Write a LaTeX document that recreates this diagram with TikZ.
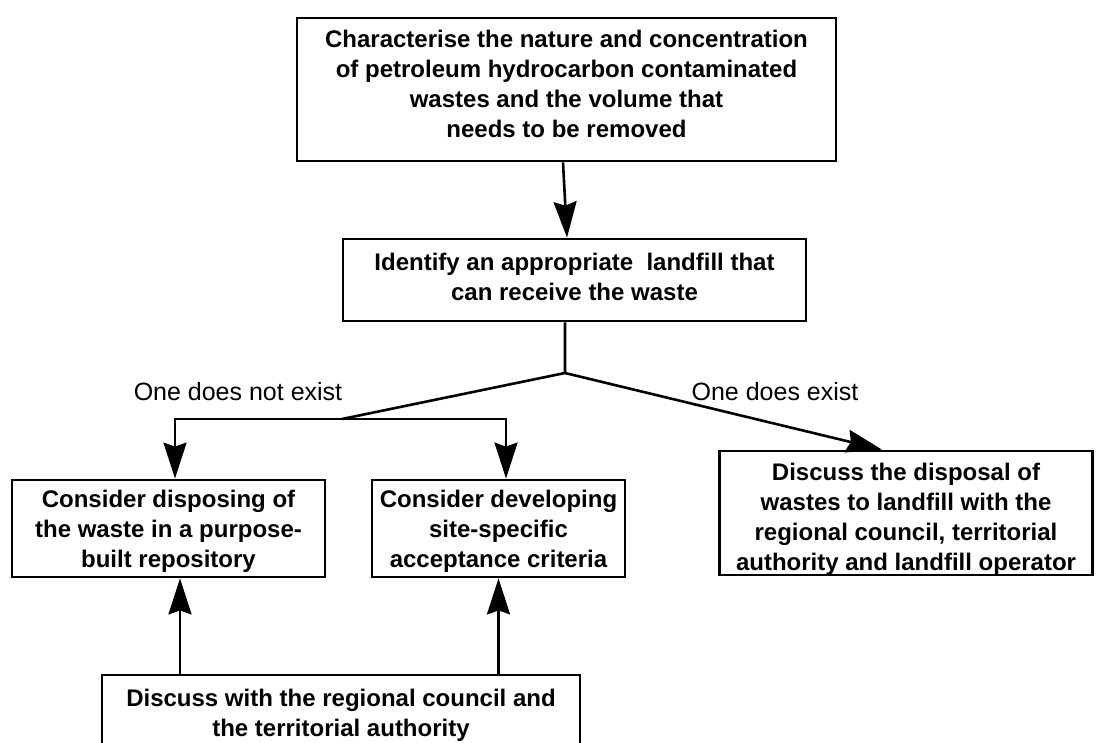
\documentclass[tikz,border=0pt]{standalone}
\usepackage{fontspec}
\setmainfont{Liberation Sans}
\usepackage{tikz}
\usetikzlibrary{positioning}
\usetikzlibrary{shapes.geometric, arrows.meta}
\tikzstyle{arrow} = [line width=1.3pt,-{Stealth[length=18pt,width=11.5pt,inset=2pt]}]
\tikzstyle{box} = [draw,line width=1.4pt,align=center,inner sep=2pt,font=\bfseries\fontsize{12pt}{15pt}\selectfont]
\tikzstyle{lbl} = [font=\fontsize{12.5pt}{15pt}\selectfont]

\begin{document}
\begin{tikzpicture}[x=0.5pt,y=-0.5pt]
				\useasboundingbox (0,0) rectangle (1096,743);
				
				%Nodes
				\node [box,minimum width=269.5pt,minimum height=71.5pt,text depth=6pt] (top) at (566.5,89.5) {Characterise the nature and concentration\\of petroleum hydrocarbon contaminated\\wastes and the volume that\\needs to be removed};
				\node [box,minimum width=231.5pt,minimum height=41pt,text depth=3.5pt] (ident) at (574.5,280) {Identify an appropriate\ \ landfill that\\can receive the waste};
				
				\node [box,minimum width=156.5pt,minimum height=48.5pt,text depth=0pt] (repo) at (168.5,528.5) {Consider disposing of\\the waste in a purpose-\\built repository};
				\node [box,minimum width=126.5pt,minimum height=48.5pt,text depth=0pt] (crit) at (498.5,528.5) {Consider developing\\site-specific\\acceptance criteria};
				\node [box,minimum width=186.5pt,minimum height=62pt,text height=57pt,text depth=0pt] (disp) at (906,513) {Discuss the disposal of\\wastes to landfill with the\\regional council, territorial\\authority and landfill operator};
				\node [box,minimum width=239pt,minimum height=38pt,text depth=0pt] (disc) at (341,713) {Discuss with the regional council and\\the territorial authority};
				
				\node [lbl] (no) at (238,392) {One does not exist};
				\node [lbl] (yes) at (775,392) {One does exist};
				
				\coordinate (split) at (565,373);
				\coordinate (fork) at (342,419);
				\coordinate (up) at ([xshift=5.75pt]repo.south);
				
				%Lines
				\draw [arrow] ([xshift=-1.75pt]top.south) -- ([xshift=-3.75pt]ident.north);
				\draw [line width=1.3pt] (ident.south -| split) -- (split) -- (fork);
				\draw [arrow] (fork) -| ([xshift=3.25pt]repo.north);
				\draw [arrow] (fork) -| ([xshift=3.75pt]crit.north);
				\draw [arrow] (split) -- ([xshift=-12pt]disp.north);
				\draw [arrow] (disc.north -| up) -- (up);
				\draw [arrow] (disc.north -| crit.south) -- (crit.south);
				
			\end{tikzpicture}
\end{document}
